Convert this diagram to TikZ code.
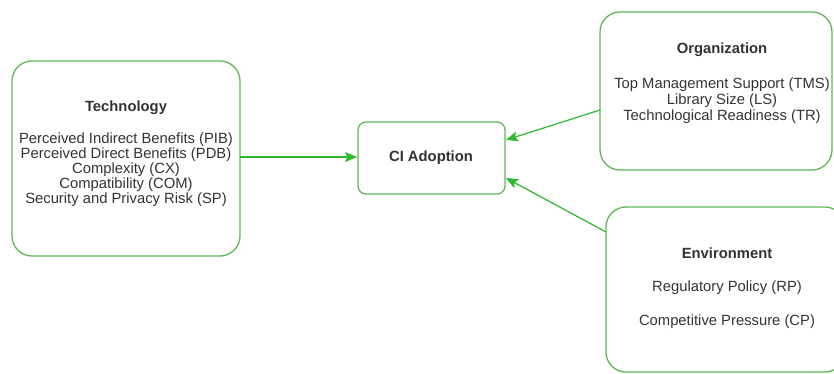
\documentclass[tikz,border=0pt]{standalone}
\usepackage{fontspec}
\setmainfont{Liberation Sans}
\usetikzlibrary{arrows.meta}
\definecolor{boxgreen}{RGB}{96,184,84}
\definecolor{arrowgreen}{RGB}{44,186,44}
\definecolor{txt}{RGB}{51,51,51}
\begin{document}
\begin{tikzpicture}[x=1pt,y=-1pt,
  factor/.style={draw=boxgreen,line width=1.3pt,rounded corners=20pt},
  label/.style={text=txt,font=\fontsize{14.8}{15}\selectfont,align=center,inner sep=0pt},
  title/.style={text=txt,font=\fontsize{14.8}{15}\selectfont\bfseries,inner sep=0pt},
  link/.style={draw=arrowgreen,line width=1.2pt,-{Stealth[length=12pt,width=10pt,inset=2.5pt]}}]
\useasboundingbox (0,0) rectangle (834,373);
% factor boxes
\draw[factor] (12,61) rectangle (240,256);
\draw[factor,rounded corners=8pt] (358,122) rectangle (505,194);
\draw[factor] (600,12) rectangle (832,170);
\draw[factor] (606,207) rectangle (845,372);
\node[title] (techT) at (126,108) {Technology};
\node[label] (tech) at (126,170) {Perceived Indirect Benefits (PIB)\\Perceived Direct Benefits (PDB)\\Complexity (CX)\\Compatibility (COM)\\Security and Privacy Risk (SP)};
\node[title] (ci) at (431,158) {CI Adoption};
\node[title] (orgT) at (722,50) {Organization};
\node[label,font=\fontsize{14.8}{16}\selectfont] (org) at (722,101) {Top Management Support (TMS)\\Library Size (LS)\\Technological Readiness (TR)};
\node[title] (envT) at (727,253) {Environment};
\node[label] (env1) at (727,288) {Regulatory Policy (RP)};
\node[label] (env2) at (727,322) {Competitive Pressure (CP)};
% connectors
\coordinate (techR) at (240,157);
\coordinate (ciL) at (357,157);
\coordinate (orgL) at (600,110);
\coordinate (ciTR) at (506,140);
\coordinate (envL) at (606,232);
\coordinate (ciBR) at (506,178);
\draw[link] (techR) -- (ciL);
\draw[link] (orgL) -- (ciTR);
\draw[link] (envL) -- (ciBR);
\end{tikzpicture}
\end{document}
